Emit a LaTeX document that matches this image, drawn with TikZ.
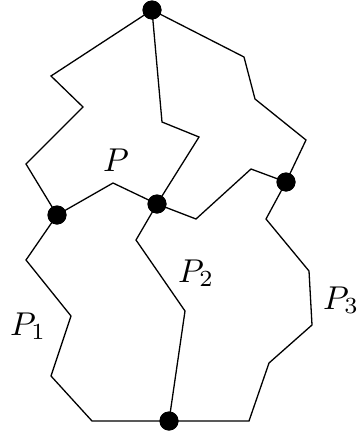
\documentclass[tikz,border=0pt]{standalone}
\usepackage{graphicx}
\begin{document}
\begin{tikzpicture}[x=1pt,y=-1pt,
  dot/.style={circle,fill=black,inner sep=0pt,minimum size=19pt},
  edge/.style={line width=1.3pt,line join=miter},
  lab/.style={anchor=base west,inner sep=0pt}]
\useasboundingbox (0,0) rectangle (361,434);
% vertices
\node[dot] (T) at (152,10) {};
\node[dot] (L) at (57,215) {};
\node[dot] (M) at (157,204) {};
\node[dot] (R) at (286,182) {};
\node[dot] (B) at (169,421) {};
% bend points
\coordinate (a1) at (51,76);
\coordinate (a2) at (83,107);
\coordinate (a3) at (26,164);
\coordinate (b1) at (162,122);
\coordinate (b2) at (199,137);
\coordinate (c1) at (244,57);
\coordinate (c2) at (255,99);
\coordinate (c3) at (306,140);
\coordinate (p1) at (113,183);
\coordinate (p2) at (196,219);
\coordinate (p3) at (251,169);
\coordinate (q1) at (26,260);
\coordinate (q2) at (71,316);
\coordinate (q3) at (51,376);
\coordinate (q4) at (92,421);
\coordinate (r1) at (136,240);
\coordinate (r2) at (185,311);
\coordinate (s1) at (266,219);
\coordinate (s2) at (309,271);
\coordinate (s3) at (312,325);
\coordinate (s4) at (269,363);
\coordinate (s5) at (249,421);
% paths
\draw[edge] (T.center) -- (a1) -- (a2) -- (a3) -- (L.center);
\draw[edge] (T.center) -- (b1) -- (b2) -- (M.center);
\draw[edge] (T.center) -- (c1) -- (c2) -- (c3) -- (R.center);
\draw[edge] (L.center) -- (p1) -- (M.center) -- (p2) -- (p3) -- (R.center);
\draw[edge] (L.center) -- (q1) -- (q2) -- (q3) -- (q4) -- (B.center);
\draw[edge] (M.center) -- (r1) -- (r2) -- (B.center);
\draw[edge] (R.center) -- (s1) -- (s2) -- (s3) -- (s4) -- (s5) -- (B.center);
% redraw dots on top
\foreach \n in {T,L,M,R,B} \fill (\n) circle (9.5pt);
% labels
\node[lab] (lP) at (103,171) {\scalebox{3.3}{$P$}};
\node[lab] (lP1) at (10,335) {\scalebox{3.3}{$P_1$}};
\node[lab] (lP2) at (178,282) {\scalebox{3.3}{$P_2$}};
\node[lab] (lP3) at (323,309) {\scalebox{3.3}{$P_3$}};
\end{tikzpicture}
\end{document}
